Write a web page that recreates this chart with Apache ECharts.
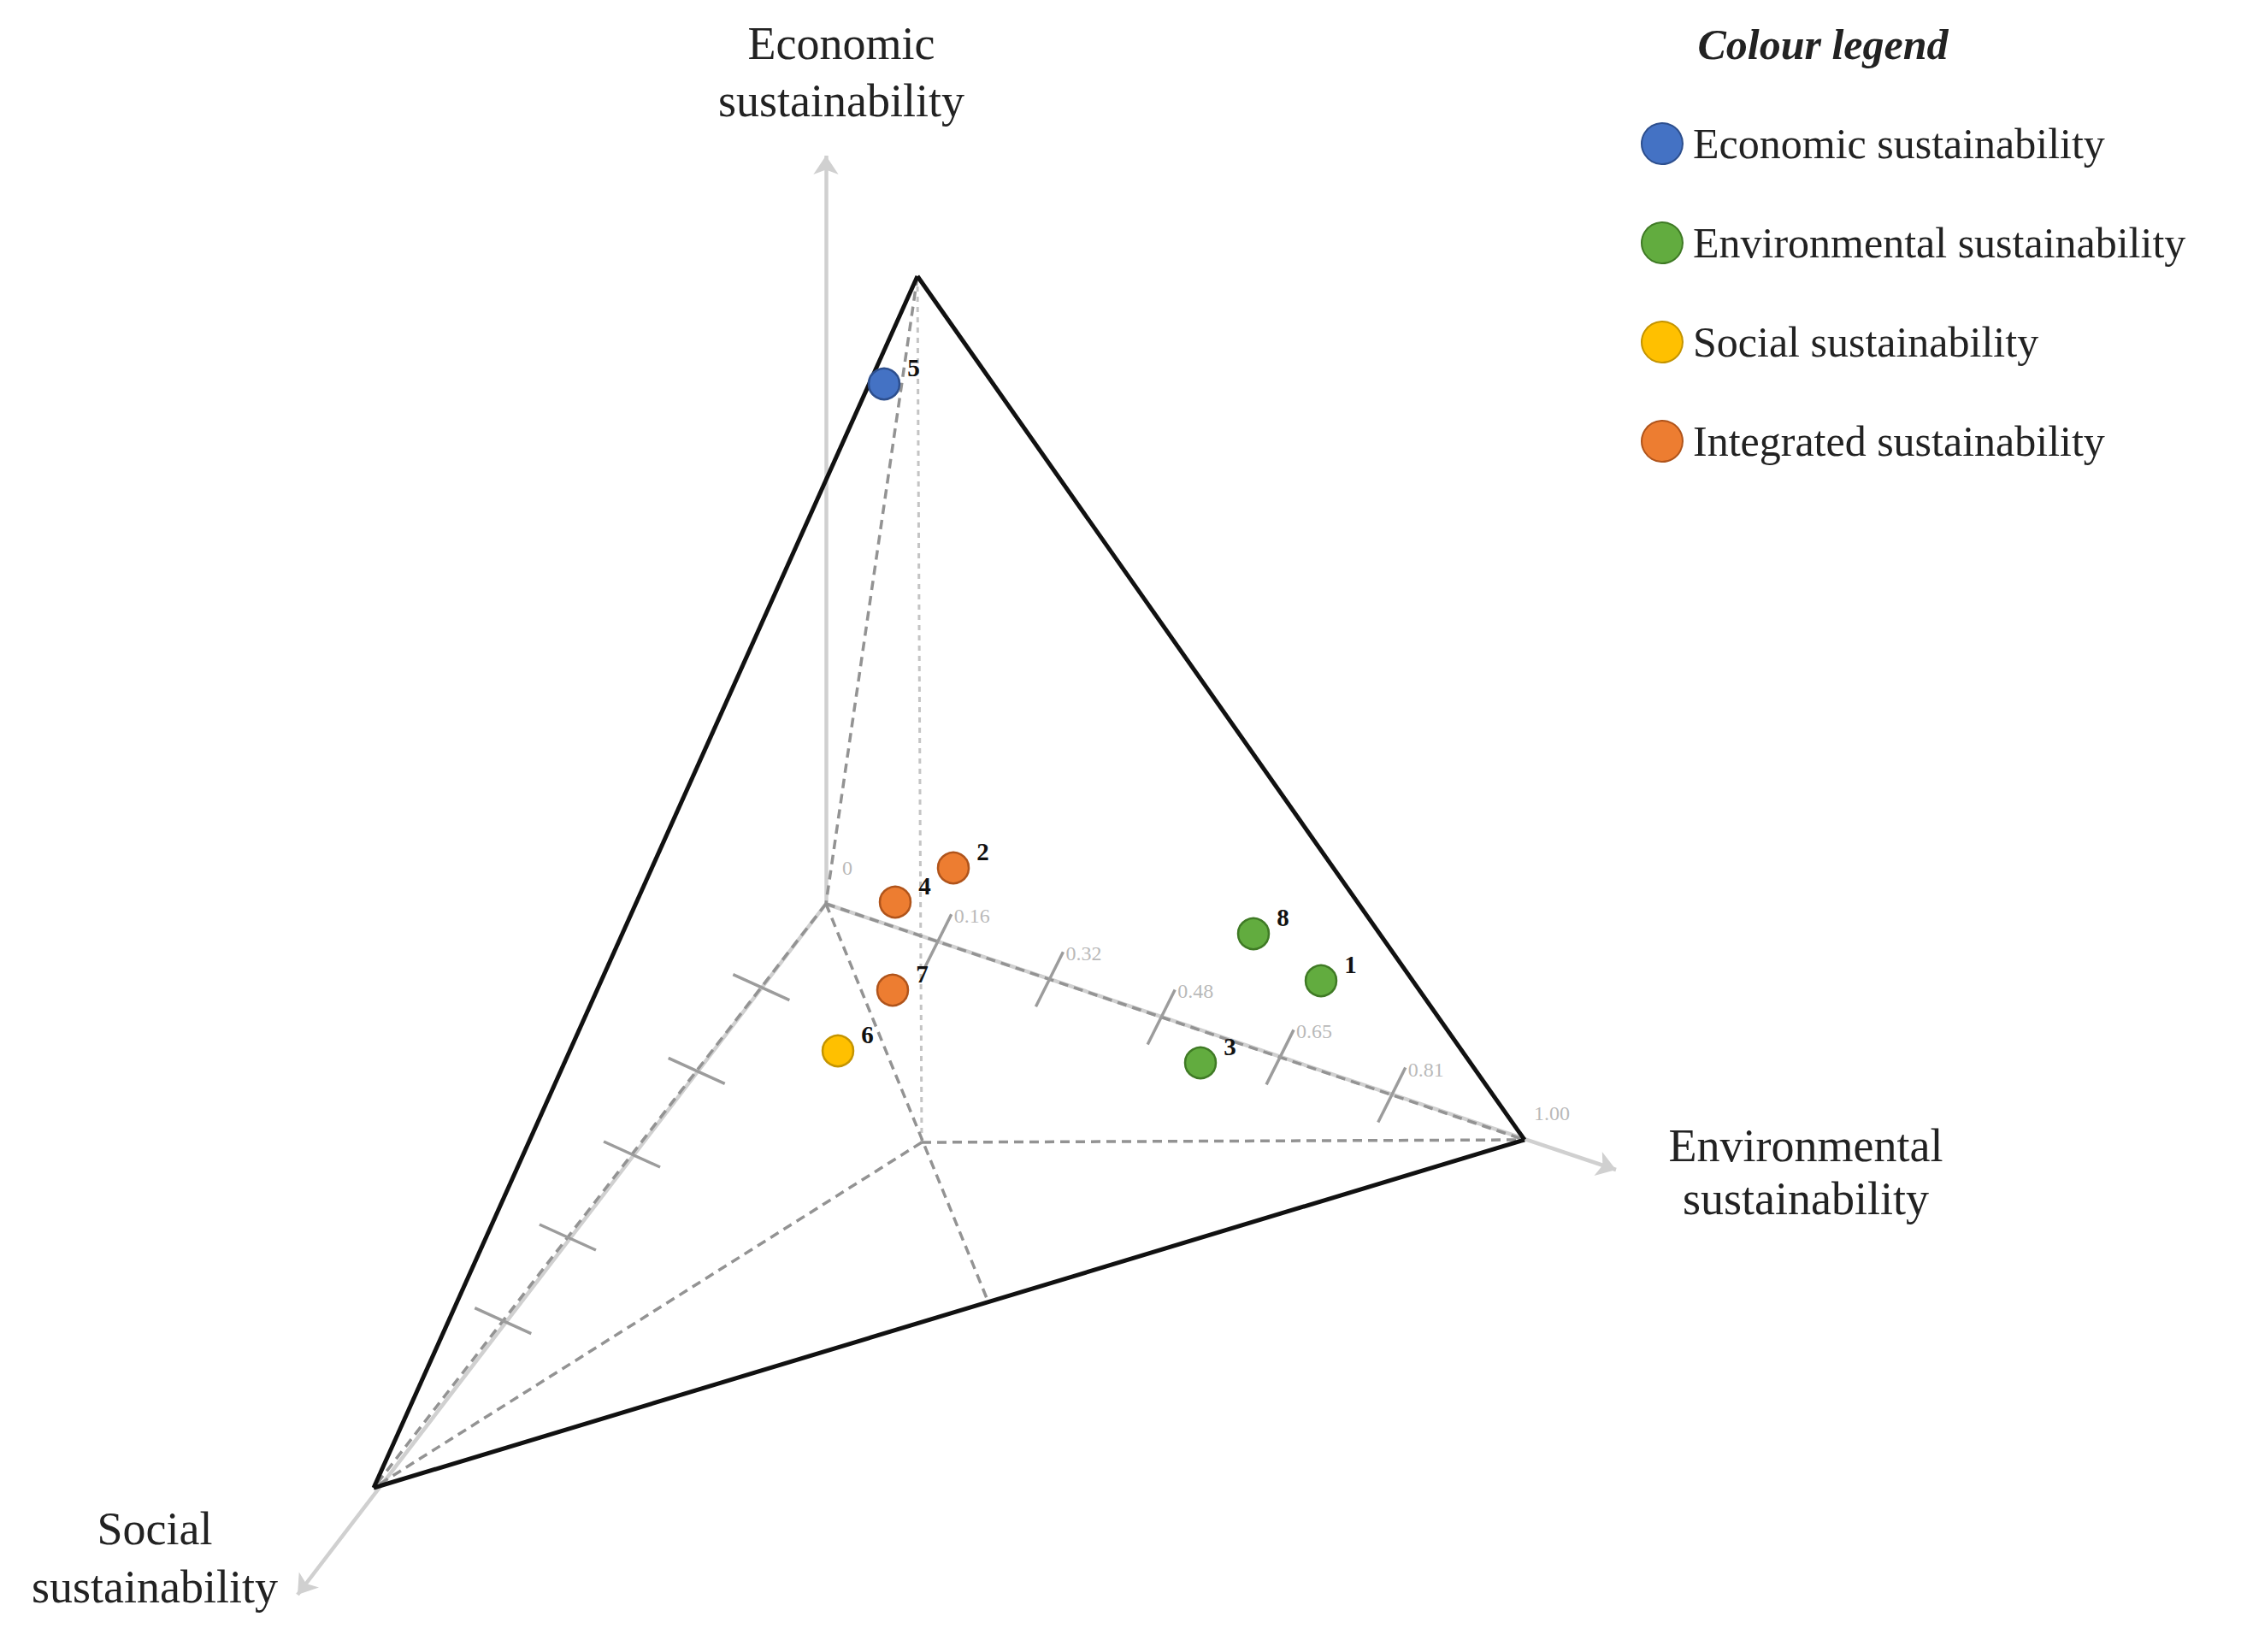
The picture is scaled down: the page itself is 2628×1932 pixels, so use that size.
<!DOCTYPE html>
<html>
<head>
<meta charset="utf-8">
<title>Sustainability tetrahedron</title>
<script src="https://cdn.jsdelivr.net/npm/echarts@6/dist/echarts.min.js"></script>
<style>
  html, body { margin: 0; padding: 0; background: #fff; }
  #chart { width: 2628px; height: 1932px; }
</style>
</head>
<body>
<div id="chart"></div>
<script>
// categories (colour legend)
const groups = ['Economic sustainability', 'Environmental sustainability', 'Social sustainability', 'Integrated sustainability'];

// cases (diagram units)
const pointIds = ['1', '2', '3', '4', '5', '6', '7', '8'];
const pointGroup = [1, 3, 1, 3, 0, 2, 3, 1];
const pointX = [1545, 1115, 1404, 1047, 1034, 980, 1044, 1466];
const pointY = [1147, 1015, 1243, 1055, 449, 1229, 1158, 1092];

// axis ticks
const envTicks = [0.16, 0.32, 0.48, 0.65, 0.81, 1.00];
const envTickLabels = ['0.16', '0.32', '0.48', '0.65', '0.81', '1.00'];
const socialTicks = [0.143, 0.286, 0.429, 0.571, 0.714];

// corners of the tetrahedron
const O = [966, 1057];   // origin
const A = [1073, 323];   // top (economic)
const R = [1783, 1333];  // environmental
const L = [437, 1740];   // social
const C = [1078, 1336];  // foot of the vertical
const M = [1156, 1523];  // on edge L-R

const colors = ['#4472c4', '#62ac3f', '#ffc000', '#ed7d31'];
const borders = ['#2d4f8e', '#3f7a25', '#c49400', '#b0541b'];

function along(p, q, t) {
  return [p[0] + (q[0] - p[0]) * t, p[1] + (q[1] - p[1]) * t];
}
function seg(p, q) {
  return { coords: [p, q] };
}

const chart = echarts.init(document.getElementById('chart'), null, { renderer: 'svg' });

const serif = 'Liberation Serif';

// env axis tick marks + labels
const envTickLines = [];
const envTickTops = [];
envTicks.forEach((t, i) => {
  const c = along(O, R, t);
  if (t < 1) {
    envTickLines.push(seg([c[0] - 16, c[1] + 32], [c[0] + 16, c[1] - 32]));
    envTickTops.push([c[0] + 16, c[1] - 30, envTickLabels[i]]);
  } else {
    envTickTops.push([c[0] + 8, c[1] - 31, envTickLabels[i]]);
  }
});
const socialTickLines = socialTicks.map(t => {
  const c = along(O, L, t);
  return seg([c[0] - 33, c[1] - 15], [c[0] + 33, c[1] + 15]);
});

const scatterSeries = groups.map((g, gi) => ({
  name: g,
  type: 'scatter',
  z: 10,
  symbol: 'circle',
  symbolSize: 36,
  itemStyle: { color: colors[gi], borderColor: borders[gi], borderWidth: 2.5, opacity: 1 },
  label: {
    show: true,
    position: 'right',
    distance: 8,
    offset: [0, -19],
    formatter: p => p.value[2],
    fontFamily: serif,
    fontWeight: 'bold',
    fontSize: 29,
    color: '#111'
  },
  data: pointIds.map((id, i) => [pointX[i], pointY[i], id]).filter((d, i) => pointGroup[i] === gi)
}));

const option = {
  animation: false,
  backgroundColor: '#fff',
  grid: { left: 0, right: 0, top: 0, bottom: 0 },
  xAxis: { type: 'value', min: 0, max: 2628, show: false },
  yAxis: { type: 'value', min: 0, max: 1932, inverse: true, show: false },
  legend: {
    data: groups,
    orient: 'vertical',
    left: 1914,
    top: 138,
    icon: 'circle',
    itemWidth: 48,
    itemHeight: 48,
    itemGap: 66,
    selectedMode: false,
    textStyle: { fontFamily: serif, fontSize: 50, color: '#222', padding: [0, 0, 0, 7], lineHeight: 48 }
  },
  graphic: [
    {
      type: 'text', x: 2132, y: 52,
      style: { text: 'Colour legend', font: 'italic bold 50px "Liberation Serif"', fill: '#222',
               align: 'center', textAlign: 'center', verticalAlign: 'middle', textVerticalAlign: 'middle' }
    },
    {
      type: 'text', x: 984, y: 84,
      style: { text: 'Economic\nsustainability', font: '54px "Liberation Serif"', fill: '#222', lineHeight: 67,
               align: 'center', textAlign: 'center', verticalAlign: 'middle', textVerticalAlign: 'middle' }
    },
    {
      type: 'text', x: 2112, y: 1371,
      style: { text: 'Environmental\nsustainability', font: '54px "Liberation Serif"', fill: '#222', lineHeight: 62,
               align: 'center', textAlign: 'center', verticalAlign: 'middle', textVerticalAlign: 'middle' }
    },
    {
      type: 'text', x: 181, y: 1822,
      style: { text: 'Social\nsustainability', font: '54px "Liberation Serif"', fill: '#222', lineHeight: 68,
               align: 'center', textAlign: 'center', verticalAlign: 'middle', textVerticalAlign: 'middle' }
    }
  ],
  series: [
    {
      // light axis arrows
      type: 'lines',
      coordinateSystem: 'cartesian2d',
      z: 1,
      symbol: ['none', 'arrow'],
      symbolSize: 22,
      lineStyle: { color: '#d0d0d0', width: 4.5, opacity: 1 },
      data: [seg(O, [966, 182]), seg(O, [1890, 1368]), seg(O, [348, 1865])]
    },
    {
      // vertical dotted line from top
      type: 'lines',
      coordinateSystem: 'cartesian2d',
      z: 2,
      lineStyle: { color: '#c4c4c4', width: 3, type: [6, 6], opacity: 1 },
      data: [seg(A, C)]
    },
    {
      // dashed hidden edges
      type: 'lines',
      coordinateSystem: 'cartesian2d',
      z: 3,
      lineStyle: { color: '#939393', width: 3.5, type: [11, 7], opacity: 1 },
      data: [seg(A, O), seg(O, R), seg(O, L), seg(C, R), seg(C, L), seg(O, M)]
    },
    {
      // tick marks
      type: 'lines',
      coordinateSystem: 'cartesian2d',
      z: 3,
      lineStyle: { color: '#9c9c9c', width: 3.5, opacity: 1 },
      data: envTickLines.concat(socialTickLines)
    },
    {
      // outer edges
      type: 'lines',
      coordinateSystem: 'cartesian2d',
      z: 4,
      lineStyle: { color: '#111', width: 5, opacity: 1, join: 'miter' },
      data: [seg(A, L), seg(A, R), seg(L, R)]
    },
    {
      // tick labels
      type: 'scatter',
      z: 5,
      symbolSize: 0,
      silent: true,
      label: {
        show: true,
        position: 'right',
        distance: 3,
        formatter: p => p.value[2],
        fontFamily: serif,
        fontSize: 24,
        color: '#a6a6a6'
      },
      data: envTickTops.concat([[O[0] + 16, O[1] - 42, '0']])
    }
  ].concat(scatterSeries)
};

chart.setOption(option);
</script>
</body>
</html>
